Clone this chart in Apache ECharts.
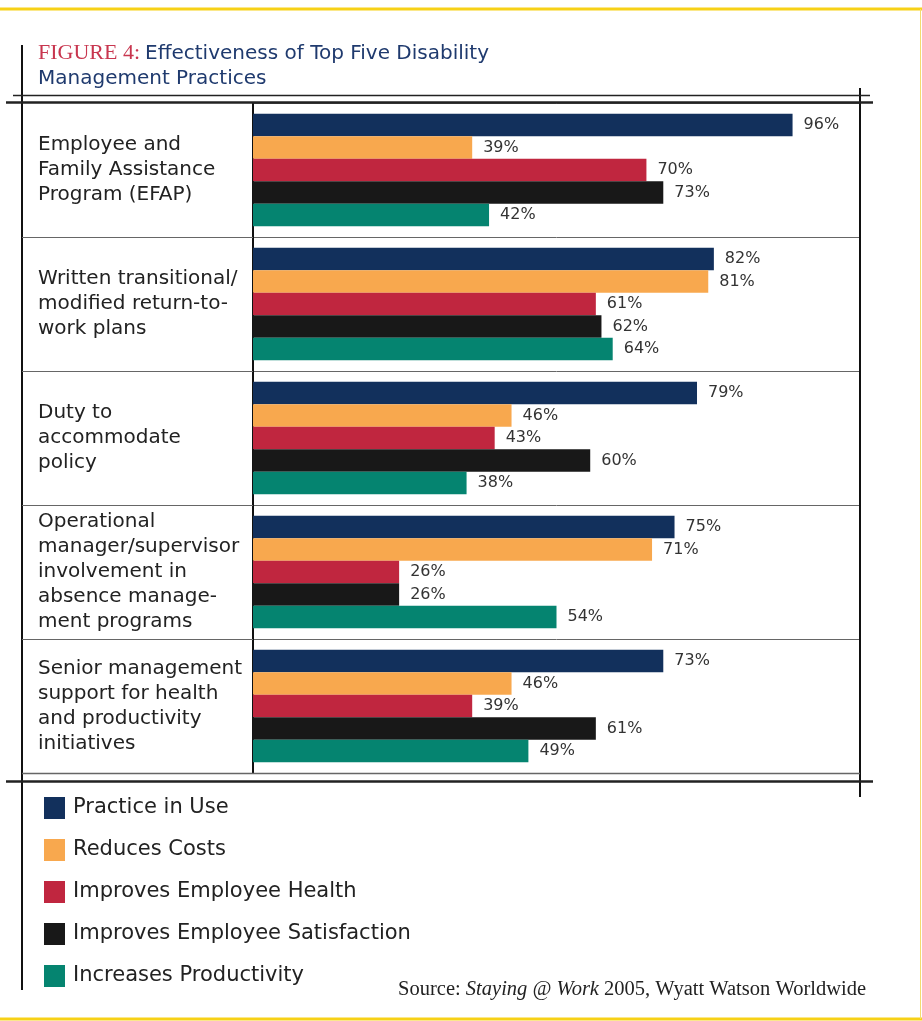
<!DOCTYPE html>
<html>
<head>
<meta charset="utf-8">
<script src="https://cdn.jsdelivr.net/npm/echarts@6/dist/echarts.min.js"></script>
<style>
  html, body { margin: 0; padding: 0; background: #fff; }
  #main { width: 922px; height: 1021px; }
</style>
</head>
<body>
<div id="main"></div>
<script>
var categories = [
    'Employee and\nFamily Assistance\nProgram (EFAP)',
    'Written transitional/\nmodified return-to-\nwork plans',
    'Duty to\naccommodate\npolicy',
    'Operational\nmanager/supervisor\ninvolvement in\nabsence manage-\nment programs',
    'Senior management\nsupport for health\nand productivity\ninitiatives'
];
var seriesNames = ['Practice in Use', 'Reduces Costs', 'Improves Employee Health',
    'Improves Employee Satisfaction', 'Increases Productivity'];
var practiceInUse = [96, 82, 79, 75, 73];
var reducesCosts = [39, 81, 46, 71, 46];
var improvesHealth = [70, 61, 43, 26, 39];
var improvesSatisfaction = [73, 62, 60, 26, 61];
var increasesProductivity = [42, 64, 38, 54, 49];
var colors = ['#12305c', '#f8a84e', '#c0263f', '#181818', '#058470'];

var seriesValues = [practiceInUse, reducesCosts, improvesHealth, improvesSatisfaction, increasesProductivity];

var myChart = echarts.init(document.getElementById('main'));

var series = seriesValues.map(function (vals, i) {
    return {
        name: seriesNames[i],
        type: 'bar',
        data: vals,
        barGap: '0%',
        barCategoryGap: '16%',
        itemStyle: { color: colors[i] },
        label: {
            show: true,
            position: 'right',
            distance: 11,
            formatter: '{c}%',
            fontFamily: 'DejaVu Sans',
            fontSize: 16,
            color: '#333'
        }
    };
});

function hline(x1, x2, y, w, c) {
    return { type: 'line', shape: { x1: x1, y1: y, x2: x2, y2: y }, style: { stroke: c, lineWidth: w }, z: 10 };
}
function vline(x, y1, y2, w, c) {
    return { type: 'line', shape: { x1: x, y1: y1, x2: x, y2: y2 }, style: { stroke: c, lineWidth: w }, z: 10 };
}

var option = {
    backgroundColor: '#fff',
    animation: false,
    title: [{
        text: '{fig|FIGURE 4:} {main|Effectiveness of Top Five Disability}\n{main|Management Practices}',
        left: 38,
        top: 41,
        padding: 0,
        textStyle: {
            fontWeight: 'normal',
            lineHeight: 25,
            rich: {
                fig: { fontFamily: 'Liberation Serif', fontSize: 22, fontWeight: 'normal', color: '#c8364f', lineHeight: 25 },
                main: { fontFamily: 'DejaVu Sans', fontSize: 20, fontWeight: 'normal', color: '#1f3a6e', lineHeight: 25 }
            }
        }
    }, {
        text: '{n|Source: }{i|Staying @ Work}{n| 2005, Wyatt Watson Worldwide}',
        right: 56,
        top: 979,
        padding: 0,
        textStyle: {
            fontWeight: 'normal',
            rich: {
                n: { fontFamily: 'Liberation Serif', fontSize: 20.5, fontWeight: 'normal', color: '#222' },
                i: { fontFamily: 'Liberation Serif', fontSize: 20.5, fontWeight: 'normal', fontStyle: 'italic', color: '#222' }
            }
        }
    }],
    legend: {
        orient: 'vertical',
        left: 44,
        top: 797,
        padding: 0,
        itemWidth: 21,
        itemHeight: 22,
        itemGap: 20,
        icon: 'rect',
        selectedMode: false,
        data: seriesNames,
        textStyle: {
            fontFamily: 'DejaVu Sans',
            fontSize: 21,
            color: '#222',
            padding: [0, 0, 0, 3]
        }
    },
    grid: { left: 253, right: 62, top: 103, bottom: 248, containLabel: false },
    xAxis: {
        type: 'value',
        min: 0,
        max: 108,
        show: false
    },
    yAxis: {
        type: 'category',
        inverse: true,
        data: categories,
        axisLine: { show: true, lineStyle: { color: '#111', width: 2 } },
        axisTick: { show: false },
        splitLine: { show: true, interval: 0, lineStyle: { color: '#666', width: 1 } },
        axisLabel: {
            interval: 0,
            align: 'left',
            margin: 215,
            fontFamily: 'DejaVu Sans',
            fontSize: 20,
            lineHeight: 25,
            color: '#222'
        }
    },
    graphic: [
        // yellow page border
        hline(0, 922, 9, 3, '#f7d117'),
        hline(0, 922, 1019, 3, '#f7d117'),
        vline(920.5, 9, 1019, 1, '#f3dc70'),
        // black frame
        vline(22, 45, 990, 2, '#111'),
        vline(860, 88, 797, 2, '#111'),
        hline(13, 870, 95.5, 1.5, '#222'),
        hline(6, 873, 102.5, 2.5, '#222'),
        hline(22, 860, 773.5, 1.5, '#666'),
        hline(6, 873, 781.5, 2.5, '#222'),
        // row separators in the label column
        hline(22, 253, 237.5, 1, '#666'),
        hline(22, 253, 371.5, 1, '#666'),
        hline(22, 253, 505.5, 1, '#666'),
        hline(22, 253, 639.5, 1, '#666')
    ],
    series: series
};
myChart.setOption(option);
</script>
</body>
</html>
